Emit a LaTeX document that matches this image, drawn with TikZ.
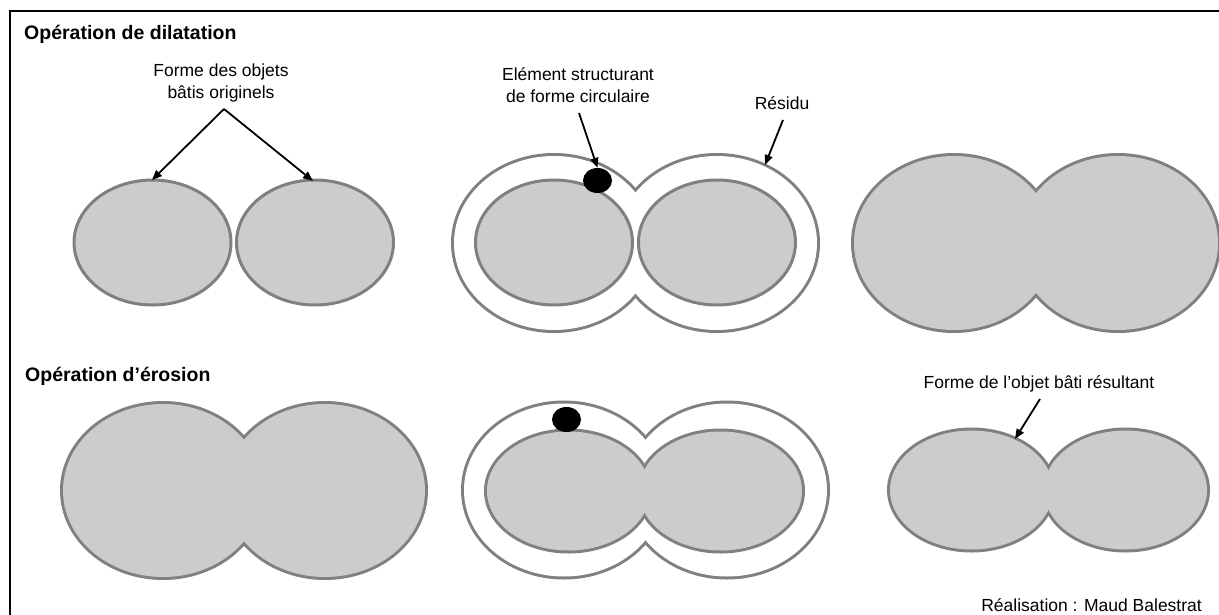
\documentclass[tikz,border=0pt]{standalone}
\usepackage{fontspec}
\setmainfont{Liberation Sans}
\usepackage{xcolor}
\usetikzlibrary{arrows.meta, positioning, shapes.geometric}
\definecolor{rimgray}{HTML}{808080}
\definecolor{batigray}{HTML}{CCCCCC}

\begin{document}
\begin{tikzpicture}[x=1pt, y=-1pt,
    lobe/.style={draw=rimgray, line width=3pt, fill=batigray},
    rim/.style={draw=rimgray, line width=6pt},
    disc/.style={ellipse, fill=black, inner sep=0pt, minimum width=29pt, minimum height=25pt},
    arr/.style={-{Triangle[length=10pt, width=8pt]}, line width=1.8pt},
    legende/.style={font=\fontsize{17.5}{22}\selectfont, align=center, inner sep=0pt},
    titre/.style={font=\fontsize{19.5}{23}\selectfont\bfseries, inner sep=0pt}]
    \useasboundingbox (0,0) rectangle (1219,614);
    \draw[line width=2pt] (1230,11) -- (9.5,11) -- (9.5,625);
    % dilatation
    \foreach \cx in {152.5,315}
        \draw[lobe] (\cx,242.5) ellipse [x radius=78.5pt, y radius=62.5pt];
    \foreach \cx in {554,717}
        \draw[rim] (\cx,243) ellipse [x radius=100pt, y radius=87pt];
    \foreach \cx in {554,717}
        \fill[white] (\cx,243) ellipse [x radius=100pt, y radius=87pt];
    \foreach \cx in {554,717}
        \draw[lobe] (\cx,242.5) ellipse [x radius=78.5pt, y radius=62.5pt];
    \foreach \cx in {954,1118}
        \draw[rim] (\cx,243) ellipse [x radius=100pt, y radius=87pt];
    \foreach \cx in {954,1118}
        \fill[batigray] (\cx,243) ellipse [x radius=100pt, y radius=87pt];
    % erosion
    \foreach \cx in {163,325}
        \draw[rim] (\cx,490.5) ellipse [x radius=100pt, y radius=86.5pt];
    \foreach \cx in {163,325}
        \fill[batigray] (\cx,490.5) ellipse [x radius=100pt, y radius=86.5pt];
    \foreach \cx in {564,727}
        \draw[rim] (\cx,490) ellipse [x radius=100pt, y radius=86.5pt];
    \foreach \cx in {564,727}
        \fill[white] (\cx,490) ellipse [x radius=100pt, y radius=86.5pt];
    \foreach \cx in {568.5,720.5}
        \draw[rim] (\cx,491) ellipse [x radius=81.5pt, y radius=59.5pt];
    \foreach \cx in {568.5,720.5}
        \fill[batigray] (\cx,491) ellipse [x radius=81.5pt, y radius=59.5pt];
    \foreach \cx in {971.5,1125.5}
        \draw[rim] (\cx,490) ellipse [x radius=81.5pt, y radius=59.5pt];
    \foreach \cx in {971.5,1125.5}
        \fill[batigray] (\cx,490) ellipse [x radius=81.5pt, y radius=59.5pt];
    % elements structurants
    \node[disc] (elem1) at (597.5,180.5) {};
    \node[disc] (elem2) at (566.5,419.5) {};
    % textes
    \node[titre, anchor=base west] (dilat) at (24,39) {Opération de dilatation};
    \node[titre, anchor=base west] (eros) at (25,381) {Opération d’érosion};
    \node[legende] (origine) at (221,83) {Forme des objets\\bâtis originels};
    \node[legende] (struct) at (578,85) {Elément structurant\\de forme circulaire};
    \node[legende, anchor=base] (residu) at (782,109) {Résidu};
    \node[legende, anchor=base] (resultat) at (1039,388) {Forme de l’objet bâti résultant};
    \node[legende, anchor=base east] (auteur) at (1202,611) {Réalisation : Maud Balestrat};
    % fleches
    \coordinate (apex) at (224,109);
    \coordinate (lobeG) at (152,180);
    \coordinate (lobeD) at (313,181);
    \coordinate (structpied) at (579,113);
    \coordinate (residupied) at (783,120);
    \coordinate (residubord) at (765,165);
    \coordinate (resultpied) at (1040,399);
    \coordinate (resultbord) at (1015,439);
    \draw[arr] (apex) -- (lobeG);
    \draw[arr] (apex) -- (lobeD);
    \draw[arr] (structpied) -- (elem1.north);
    \draw[arr] (residupied) -- (residubord);
    \draw[arr] (resultpied) -- (resultbord);
\end{tikzpicture}
\end{document}
